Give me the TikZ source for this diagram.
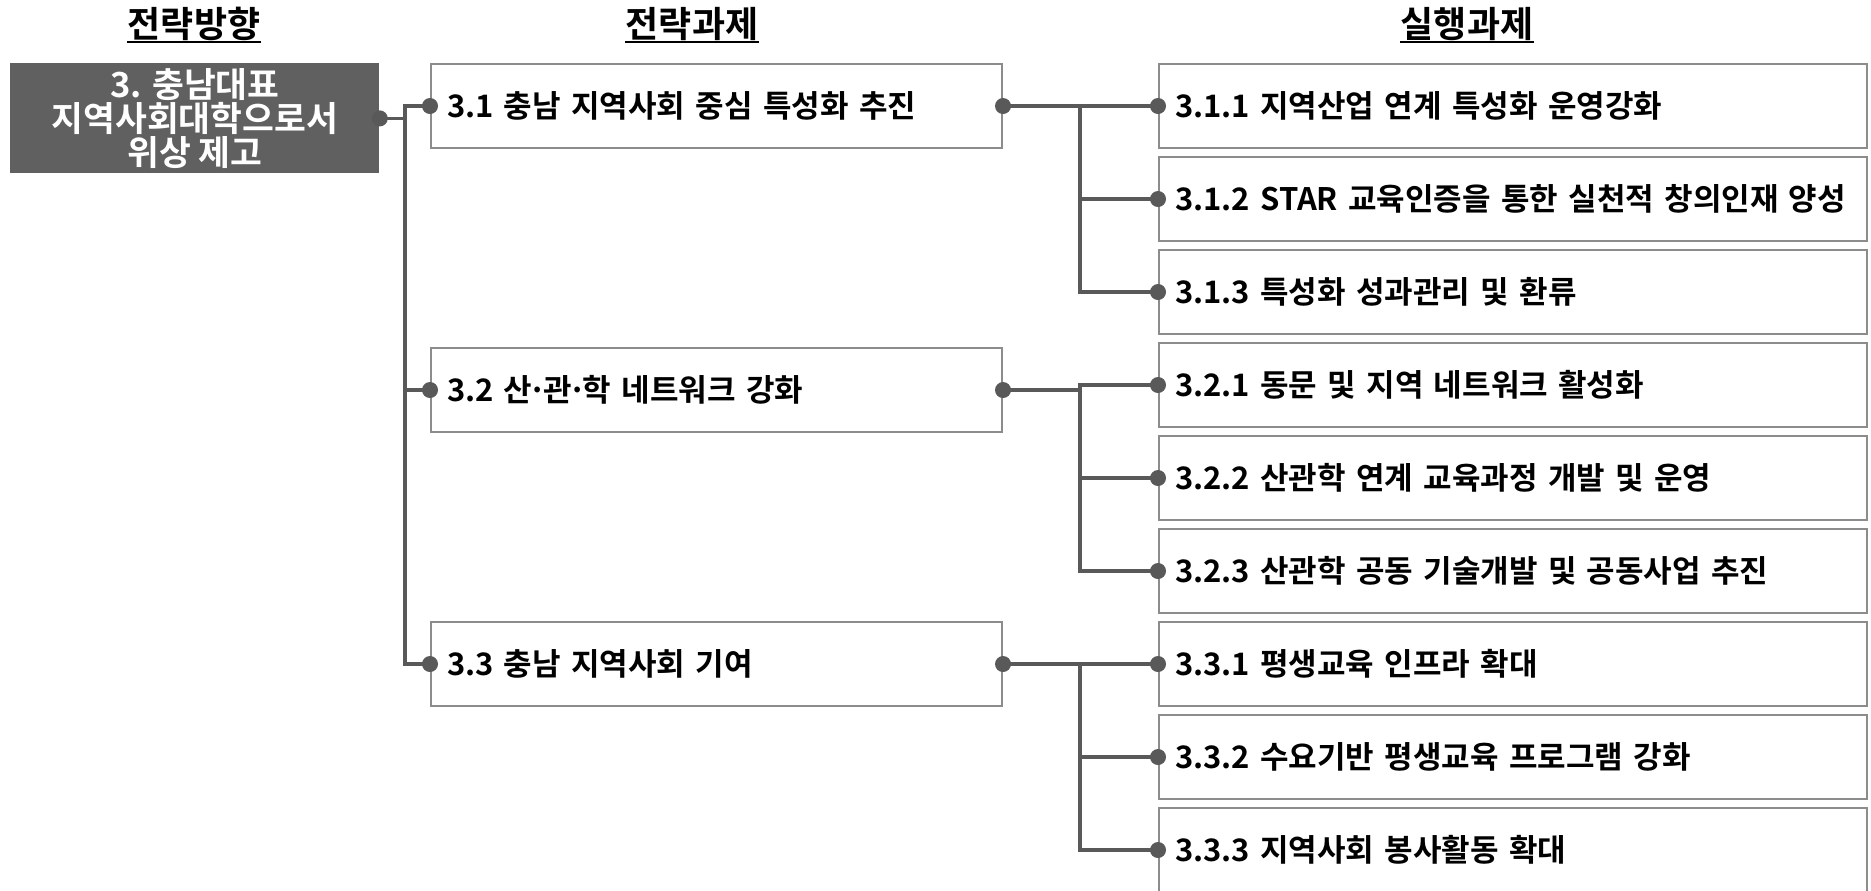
\documentclass[tikz,border=0pt]{standalone}
\usepackage{fontspec}
\newfontfamily\krb{Noto Sans CJK KR Bold}
\definecolor{darkfill}{RGB}{96,96,96}
\definecolor{linec}{RGB}{89,89,89}
\definecolor{borderc}{RGB}{140,140,140}
\newcommand{\mdot}{\kern-.12em·\kern-.12em}
\begin{document}
\begin{tikzpicture}[x=0.5pt,y=-0.5pt,
  font=\krb\fontsize{15.5pt}{15.75pt}\selectfont,
  basebox/.style={draw=borderc, line width=1pt, fill=white, anchor=north west,
    minimum height=42pt, inner xsep=8pt, inner ysep=0pt, align=left},
  lonebox/.style={basebox, text width=269.5pt},
  lthreebox/.style={basebox, text width=338pt},
  darkbox/.style={fill=darkfill, text=white, anchor=north west, align=center,
    minimum width=184.5pt, minimum height=55pt, inner sep=0pt,
    font=\krb\fontsize{17.3pt}{15.8pt}\selectfont},
  title/.style={inner sep=0pt, font=\krb\fontsize{18pt}{18pt}\selectfont},
  ul/.style={line width=1.3pt, black},
  conn/.style={draw=linec, line width=1.8pt},
  dotc/.style={fill=linec}]
\useasboundingbox[fill=white] (0,0) rectangle (1871,890);

% titles
\node[title] (t1) at (194,24) {전략방향};
\node[title] (t2) at (692,24) {전략과제};
\node[title] (t3) at (1467,24) {실행과제};
\draw[ul] (t1.west |- 0,42) -- (t1.east |- 0,42);
\draw[ul] (t2.west |- 0,42) -- (t2.east |- 0,42);
\draw[ul] (t3.west |- 0,42) -- (t3.east |- 0,42);

% level 0
\node[darkbox] (d) at (10,63) {3. 충남대표\\지역사회대학으로서\\위상 제고};

% level 1
\node[lonebox] (b1) at (430,63) {3.1 충남 지역사회 중심 특성화 추진};
\node[lonebox] (b2) at (430,347) {3.2 산\mdot 관\mdot 학 네트워크 강화};
\node[lonebox] (b3) at (430,621) {3.3 충남 지역사회 기여};

% level 2
\node[lthreebox] (c1) at (1158,63) {3.1.1 지역산업 연계 특성화 운영강화};
\node[lthreebox] (c2) at (1158,156) {3.1.2 STAR 교육인증을 통한 실천적 창의인재 양성};
\node[lthreebox] (c3) at (1158,249) {3.1.3 특성화 성과관리 및 환류};
\node[lthreebox] (c4) at (1158,342) {3.2.1 동문 및 지역 네트워크 활성화};
\node[lthreebox] (c5) at (1158,435) {3.2.2 산관학 연계 교육과정 개발 및 운영};
\node[lthreebox] (c6) at (1158,528) {3.2.3 산관학 공동 기술개발 및 공동사업 추진};
\node[lthreebox] (c7) at (1158,621) {3.3.1 평생교육 인프라 확대};
\node[lthreebox] (c8) at (1158,714) {3.3.2 수요기반 평생교육 프로그램 강화};
\node[lthreebox] (c9) at (1158,807) {3.3.3 지역사회 봉사활동 확대};

% junction coordinates
\coordinate (ja) at (405,0);
\coordinate (jb) at (1080,0);

% connectors level 0 -> 1
\draw[conn] (d.east) -| (ja |- b1.west) -- (b1.west);
\draw[conn] (ja |- b1.west) -- (ja |- b3.west) -- (b3.west);
\draw[conn] (ja |- b2.west) -- (b2.west);

% connectors level 1 -> 2
\draw[conn] (b1.east) -- (c1.west);
\draw[conn] (jb |- c1.west) -- (jb |- c3.west) -- (c3.west);
\draw[conn] (jb |- c2.west) -- (c2.west);

\draw[conn] (b2.east) -| (jb |- c4.west) -- (c4.west);
\draw[conn] (jb |- c4.west) -- (jb |- c6.west) -- (c6.west);
\draw[conn] (jb |- c5.west) -- (c5.west);

\draw[conn] (b3.east) -| (jb |- c7.west) -- (c7.west);
\draw[conn] (jb |- c7.west) -- (jb |- c9.west) -- (c9.west);
\draw[conn] (jb |- c8.west) -- (c8.west);

% dots
\foreach \n in {d.east,b1.west,b2.west,b3.west,b1.east,b2.east,b3.east,
  c1.west,c2.west,c3.west,c4.west,c5.west,c6.west,c7.west,c8.west,c9.west}
  \fill[dotc] (\n) circle[radius=4pt];
\end{tikzpicture}
\end{document}
